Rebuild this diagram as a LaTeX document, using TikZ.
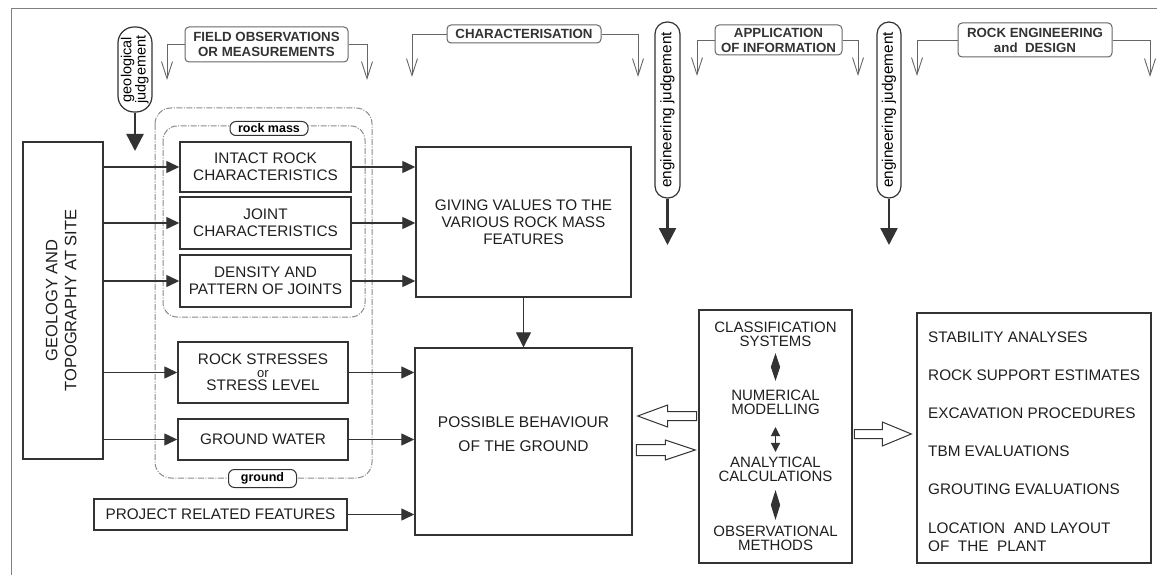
\documentclass[tikz,border=0pt]{standalone}
\usepackage{fontspec}
\setmainfont{Liberation Sans}
\usetikzlibrary{arrows.meta,calc}
\definecolor{ink}{HTML}{333333}
\definecolor{hdrc}{HTML}{666666}
\definecolor{zonec}{HTML}{8A8A8A}
\definecolor{framec}{HTML}{808080}
\newcommand\boxfont{\fontsize{15.3}{17}\selectfont}
\newcommand\hdrfont{\bfseries\fontsize{13.3}{15}\selectfont}
\newcommand\tagfont{\bfseries\fontsize{12.5}{14}\selectfont}
\newcommand\clsfont{\fontsize{15}{14}\selectfont}
\begin{document}
\begin{tikzpicture}[x=1pt,y=-1pt,
 box/.style={draw=ink, line width=1.4pt, inner sep=0pt, align=center, font=\boxfont, fill=white, text=black!88},
 hdr/.style={draw=hdrc, rounded corners=4pt, line width=1pt, inner sep=0pt, align=center, font=\hdrfont, text=ink},
 conn/.style={draw=hdrc, line width=0.9pt, -{Straight Barb[length=17pt,width=11pt]}},
 feed/.style={draw=ink, line width=1.3pt, -{Triangle[length=13pt,width=12pt]}},
 judg/.style={draw=ink, line width=2.4pt, -{Triangle[length=17pt,width=17pt]}},
 pill/.style={draw=ink, line width=1.2pt, inner sep=0pt, align=center, fill=white},
 zone/.style={draw=zonec, line width=1pt, dash pattern=on 6pt off 1.5pt on 1pt off 1.5pt, rounded corners=16pt},
 tag/.style={draw=ink, line width=1pt, rounded corners=6pt, fill=white, inner sep=0pt, font=\tagfont},
 txt/.style={inner sep=0pt, align=center, font=\clsfont, text=black!88},
 blk/.style={draw=ink, line width=1pt, fill=white, line join=miter},
 rim/.style={draw=framec, line width=1pt}
]
\useasboundingbox (0,0) rectangle (1157,575);

% partial outer frame
\coordinate (fa) at (11,575);
\coordinate (fb) at (11,9);
\coordinate (fc) at (1157,9);
\draw[rim] (fa) -- (fb) -- (fc);

% zones
\draw[zone] (155,108) rectangle (372,478);
\draw[zone, rounded corners=14pt] (163,126) rectangle (365,317);
\node[tag, minimum width=78pt, minimum height=14pt] (rockmass) at (269,128.5) {rock mass};
\node[tag, minimum width=68pt, minimum height=18pt] (ground) at (262.5,478.5) {ground};

% header boxes
\node[hdr, minimum width=163pt, minimum height=35pt] (field) at (266.5,44.5) {FIELD OBSERVATIONS\\OR MEASUREMENTS};
\node[hdr, minimum width=154pt, minimum height=18pt] (charac) at (524,34) {CHARACTERISATION};
\node[hdr, minimum width=127pt, minimum height=30pt] (appl) at (778.5,40) {APPLICATION\\OF INFORMATION};
\node[hdr, minimum width=154pt, minimum height=34pt] (rockeng) at (1035,40) {ROCK ENGINEERING\\and\ \ DESIGN};

\coordinate (fieldL) at (167,80);
\coordinate (fieldR) at (367,80);
\coordinate (characL) at (412,77);
\coordinate (characR) at (638,77);
\coordinate (applL) at (697,76);
\coordinate (applR) at (858,76);
\coordinate (rockengL) at (917,76);
\coordinate (rockengR) at (1150,77);
\draw[conn] (field.west) -| (fieldL);
\draw[conn] (field.east) -| (fieldR);
\draw[conn] (charac.west) -| (characL);
\draw[conn] (charac.east) -| (characR);
\draw[conn] (appl.west) -| (applL);
\draw[conn] (appl.east) -| (applR);
\draw[conn] (rockeng.west) -| (rockengL);
\draw[conn] (rockeng.east) -| (rockengR);

% judgement pills
\node[pill, rounded corners=16pt, minimum width=34pt, minimum height=85pt] (geoj) at (135,69.5)
  {\rotatebox{90}{\fontsize{14.5}{12.5}\selectfont\begin{tabular}{@{}c@{}}geological\\judgement\end{tabular}}};
\node[pill, rounded corners=12pt, minimum width=25pt, minimum height=176pt] (engj1) at (667.5,110)
  {\rotatebox{90}{\fontsize{15.3}{17}\selectfont engineering judgement}};
\node[pill, rounded corners=12pt, minimum width=24pt, minimum height=176pt] (engj2) at (889,110)
  {\rotatebox{90}{\fontsize{15.3}{17}\selectfont engineering judgement}};
\coordinate (geojT) at (135,151);
\coordinate (engj1T) at (667.5,245);
\coordinate (engj2T) at (889,245);
\draw[judg] (geoj.south) -- (geojT);
\draw[judg] (engj1.south) -- (engj1T);
\draw[judg] (engj2.south) -- (engj2T);

% main boxes
\node[box, minimum width=80pt, minimum height=317pt] (geo) at (63,300.5)
  {\rotatebox{90}{\fontsize{16.5}{19}\selectfont\begin{tabular}{@{}c@{}}GEOLOGY AND\\TOPOGRAPHY AT SITE\end{tabular}}};
\node[box, minimum width=171pt, minimum height=50pt] (intact) at (265.5,167) {INTACT ROCK\\CHARACTERISTICS};
\node[box, minimum width=171pt, minimum height=52pt] (joint) at (265.5,223) {JOINT\\CHARACTERISTICS};
\node[box, minimum width=171pt, minimum height=52pt] (density) at (265.5,281) {DENSITY AND\\PATTERN OF JOINTS};
\node[box, minimum width=170pt, minimum height=61pt] (stress) at (263,372.5) {ROCK STRESSES\\[-4pt]{\fontsize{13}{13}\selectfont or}\\[-4pt]STRESS LEVEL};
\node[box, minimum width=170pt, minimum height=41pt] (gw) at (263,439.5) {GROUND WATER};
\node[box, minimum width=253pt, minimum height=31pt] (project) at (220.5,514.5) {PROJECT RELATED FEATURES};
\node[box, minimum width=215pt, minimum height=150pt, align=center] (giving) at (523.5,222)
  {\fontsize{15.3}{24.5}\selectfont GIVING VALUES TO THE\\VARIOUS ROCK MASS\\FEATURES};
\node[box, minimum width=217pt, minimum height=187pt] (possible) at (523.5,441.5) {};
\node[txt, font=\fontsize{15.5}{24}\selectfont] (possibletxt) at (523.5,434) {POSSIBLE BEHAVIOUR\\OF THE GROUND};
\node[box, minimum width=153pt, minimum height=253pt] (class) at (775.5,436.5) {};
\node[box, minimum width=234pt, minimum height=250pt] (results) at (1034,438) {};

% classification texts
\node[txt] (cs) at (775.5,334.7) {CLASSIFICATION\\SYSTEMS};
\node[txt] (nm) at (775.5,402) {NUMERICAL\\MODELLING};
\node[txt] (ac) at (775.5,469) {ANALYTICAL\\CALCULATIONS};
\node[txt] (om) at (775.5,538.7) {OBSERVATIONAL\\METHODS};
\draw[draw=ink, line width=1pt, shorten <=5.8pt, shorten >=8.5pt,
  {Triangle[length=14pt,width=9pt]}-{Triangle[length=14pt,width=9pt]}] (cs.south) -- (nm.north);
\draw[draw=ink, line width=1.2pt, shorten <=12.5pt, shorten >=4.5pt,
  {Triangle[length=9pt,width=9pt]}-{Triangle[length=9pt,width=9pt]}] (nm.south) -- (ac.north);
\draw[draw=ink, line width=1pt, shorten <=8.5pt, shorten >=6.2pt,
  {Triangle[length=15pt,width=9pt]}-{Triangle[length=15pt,width=9pt]}] (ac.south) -- (om.north);

% results items
\node[anchor=north west, inner sep=0pt, align=left, font=\fontsize{15.3}{18}\selectfont, text=black!88] (items) at (928,331.5)
  {STABILITY ANALYSES\\[20pt]ROCK SUPPORT ESTIMATES\\[20pt]EXCAVATION PROCEDURES\\[20pt]TBM EVALUATIONS\\[20pt]GROUTING EVALUATIONS\\[21pt]LOCATION\ \ AND LAYOUT\\OF\ \ THE\ \ PLANT};

% feed arrows
\foreach \n in {intact,joint,density,stress,gw}
  \draw[feed] (geo.east |- \n.west) -- (\n.west);
\foreach \n in {intact,joint,density}
  \draw[feed] (\n.east) -- (\n.east -| giving.west);
\foreach \n in {stress,gw,project}
  \draw[feed] (\n.east) -- (\n.east -| possible.west);
\draw[feed, -{Triangle[length=15pt,width=15pt]}] (giving.south) -- (possible.north);

% block arrows
\draw[blk] ($(possible.east)+(5,-25.5)$) -- ++(30,-11) -- ++(0,6.5) -- ++(29,0) -- ++(0,9) -- ++(-29,0) -- ++(0,6.5) -- cycle;
\draw[blk] ($(class.west)+(-3,13.5)$) -- ++(-30,-10) -- ++(0,4.5) -- ++(-29,0) -- ++(0,11) -- ++(29,0) -- ++(0,4.5) -- cycle;
\draw[blk] ($(results.west)+(-5,-4)$) -- ++(-29,-12) -- ++(0,7.5) -- ++(-28,0) -- ++(0,9) -- ++(28,0) -- ++(0,7.5) -- cycle;
\end{tikzpicture}
\end{document}
